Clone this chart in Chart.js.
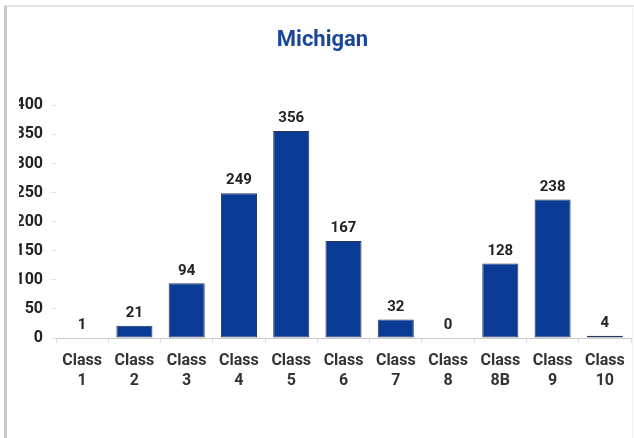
<!DOCTYPE html>
<html>
<head>
<meta charset="utf-8">
<script src="https://cdn.jsdelivr.net/npm/chart.js@4"></script>
<style>
  html, body { margin: 0; padding: 0; background: #fff; }
  #page { position: relative; width: 634px; height: 438px; overflow: hidden; }
  #topline { position: absolute; left: 4px; top: 5px; width: 630px; height: 2px; background: #e3e3e3; }
  #leftline { position: absolute; left: 4px; top: 6px; width: 3px; height: 432px; background: #c9c9c9; }
  #rightline { position: absolute; left: 632px; top: 6px; width: 1px; height: 432px; background: #f0f0f0; }
  #clip { position: absolute; left: 19px; top: 0; width: 615px; height: 438px; overflow: hidden; }
  #wrap { position: absolute; left: -19px; top: 0; width: 634px; height: 438px; }
</style>
</head>
<body>
<div id="page">
  <div id="topline"></div>
  <div id="leftline"></div>
  <div id="rightline"></div>
  <div id="clip"><div id="wrap"><canvas id="myChart" width="634" height="438"></canvas></div></div>
</div>
<script>
// chart data
const classes = [['Class', '1'], ['Class', '2'], ['Class', '3'], ['Class', '4'], ['Class', '5'],
    ['Class', '6'], ['Class', '7'], ['Class', '8'], ['Class', '8B'], ['Class', '9'], ['Class', '10']];
const counts = [1, 21, 94, 249, 356, 167, 32, 0, 128, 238, 4];
const y_ticks = [0, 50, 100, 150, 200, 250, 300, 350, 400];

// value labels above the bars
const bar_labels = {
    id: 'bar_labels',
    afterDatasetsDraw(chart) {
        const ctx = chart.ctx;
        ctx.save();
        ctx.font = 'bold 15px Roboto';
        ctx.fillStyle = '#222';
        ctx.textAlign = 'center';
        ctx.textBaseline = 'bottom';
        chart.getDatasetMeta(0).data.forEach(function(bar, i) {
            ctx.fillText(counts[i], bar.x, bar.y - 5);
        });
        ctx.restore();
    }
};

var ctx = document.getElementById('myChart').getContext('2d');
var chart = new Chart(ctx, {
    type: 'bar',
    data: {
        labels: classes,
        datasets: [{
            label: 'Michigan',
            data: counts,
            backgroundColor: '#0a3b94',
            borderColor: '#27365a',
            borderWidth: 1,
            borderSkipped: false,
            categoryPercentage: 1.0,
            barPercentage: 0.69
        }]
    },
    options: {
        responsive: false,
        animation: false,
        layout: { padding: { left: 14, right: 3, top: 15, bottom: 39 } },
        plugins: {
            legend: { display: false },
            tooltip: { enabled: false },
            title: {
                display: true,
                text: 'Michigan',
                color: '#1a479a',
                font: { family: 'Roboto', size: 22, weight: 'bold' },
                padding: { top: 12, bottom: 52 }
            }
        },
        scales: {
            x: {
                grid: { drawOnChartArea: false, drawTicks: true, tickLength: 5, color: '#ddd' },
                border: { display: true, color: '#ccc' },
                ticks: {
                    color: '#333',
                    padding: 8,
                    maxRotation: 0,
                    autoSkip: false,
                    font: { family: 'Roboto', size: 16, weight: 'bold', lineHeight: 1.25 }
                }
            },
            y: {
                min: 0,
                max: 400,
                afterBuildTicks: function(scale) {
                    scale.ticks = y_ticks.map(function(v) { return { value: v }; });
                },
                afterFit: function(scale) { scale.width = 42; },
                grid: { drawOnChartArea: false, drawTicks: true, tickLength: 5, color: '#e3e3e3' },
                border: { display: false },
                ticks: {
                    color: '#222',
                    padding: 8,
                    font: { family: 'Roboto', size: 16, weight: 'bold' }
                }
            }
        }
    },
    plugins: [bar_labels]
});
</script>
</body>
</html>
